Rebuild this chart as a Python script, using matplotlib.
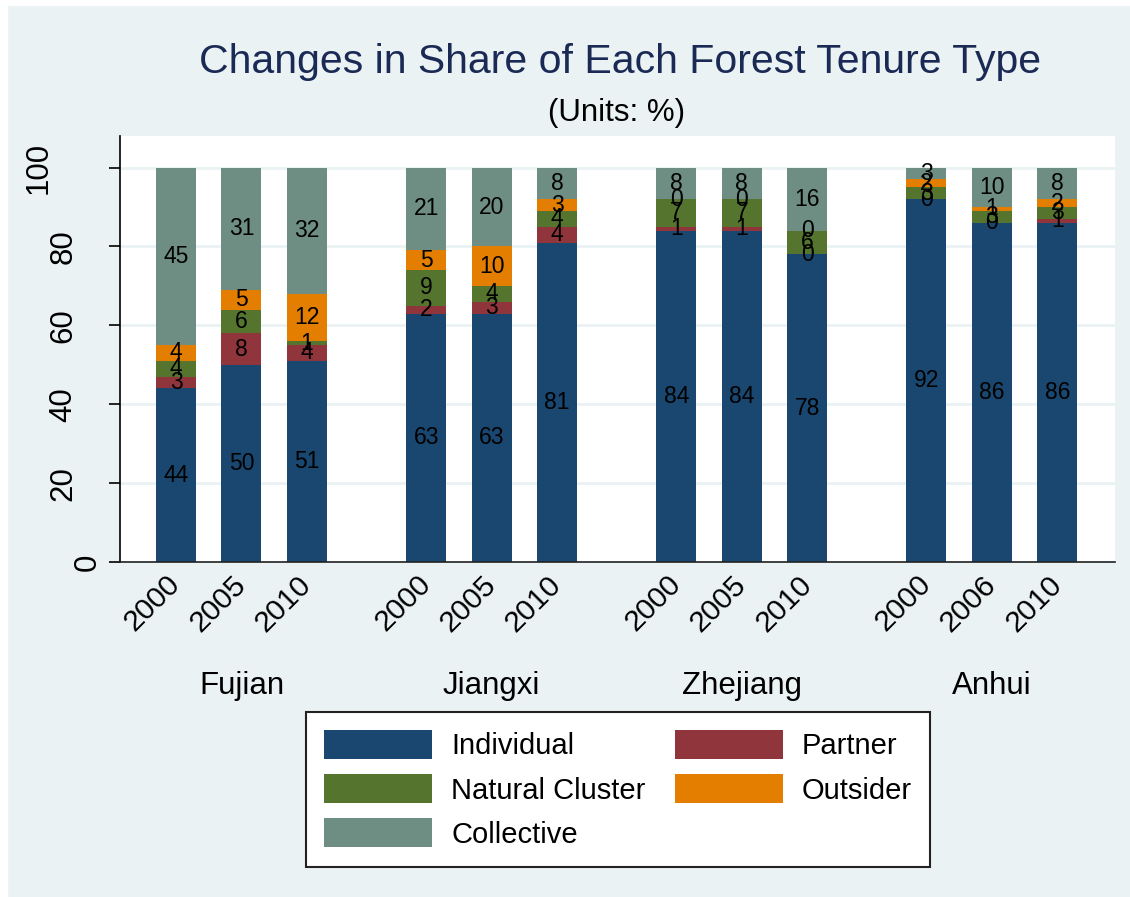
import matplotlib
matplotlib.use("Agg")
import matplotlib.pyplot as plt
import matplotlib.transforms as mtransforms
from matplotlib.patches import Rectangle

plt.rcParams['font.family'] = ['Liberation Sans', 'DejaVu Sans']

# data (percent shares, stacked bottom to top)
provinces = ['Fujian', 'Jiangxi', 'Zhejiang', 'Anhui']
years = [['2000', '2005', '2010'], ['2000', '2005', '2010'],
         ['2000', '2005', '2010'], ['2000', '2006', '2010']]

individual = [44, 50, 51, 63, 63, 81, 84, 84, 78, 92, 86, 86]
partner    = [3, 8, 4, 2, 3, 4, 1, 1, 0, 0, 0, 1]
natural    = [4, 6, 1, 9, 4, 4, 7, 7, 6, 3, 3, 3]
outsider   = [4, 5, 12, 5, 10, 3, 0, 0, 0, 2, 1, 2]
collective = [45, 31, 32, 21, 20, 8, 8, 8, 16, 3, 10, 8]

series = [('Individual', individual, '#1A476F'),
          ('Partner', partner, '#90353B'),
          ('Natural Cluster', natural, '#55752F'),
          ('Outsider', outsider, '#E37E00'),
          ('Collective', collective, '#6E8E84')]

bg = '#EAF2F3'
W, H = 1130, 897

fig = plt.figure(figsize=(W / 100, H / 100), dpi=100, facecolor=bg)
fig.patches.append(Rectangle((0, 0), 7 / W, 1, transform=fig.transFigure,
                             color='white', zorder=0))
fig.patches.append(Rectangle((0, 1 - 5 / H), 1, 5 / H, transform=fig.transFigure,
                             color='white', zorder=0))

ax = fig.add_axes([120 / W, 1 - 562 / H, 995 / W, 426 / H])
ax.set_facecolor('white')

group_step = 3.82
pos = []
for g in range(len(provinces)):
    for i in range(3):
        pos.append(g * group_step + i)

bottom = [0] * len(pos)
handles = {}
for name, vals, col in series:
    b = ax.bar(pos, vals, width=0.61, bottom=bottom, color=col, linewidth=0, zorder=2)
    handles[name] = b
    for x, v, b0 in zip(pos, vals, bottom):
        ax.text(x, b0 + v / 2, str(v), ha='center', va='center', fontsize=16.5,
                color='black', zorder=3)
    bottom = [b0 + v for b0, v in zip(bottom, vals)]

ax.set_xlim(-0.855, 14.34)
ax.set_ylim(0, 108)

# axes styling
for s in ['top', 'right']:
    ax.spines[s].set_visible(False)
ax.spines['left'].set_color('black')
ax.spines['left'].set_linewidth(1.2)
ax.spines['bottom'].set_color('#222222')
ax.spines['bottom'].set_linewidth(1.2)
ax.set_axisbelow(True)
ax.yaxis.grid(True, color=bg, linewidth=2)

yt = [0, 20, 40, 60, 80, 100]
ax.set_yticks(yt)
ax.set_yticklabels([])
ax.tick_params(axis='y', length=8, width=1.2, color='black')
ytrans = mtransforms.blended_transform_factory(ax.transAxes, ax.transData)
for t in yt:
    lab = str(t)
    shift = -(17 + (len(lab) - 1) * 24.5) / 100
    off = mtransforms.ScaledTranslation(shift, 0, fig.dpi_scale_trans)
    ax.text(0, t, lab, transform=ytrans + off, rotation=90, ha='right',
            va='center', fontsize=22.5)

flat_years = [y for grp in years for y in grp]
ax.set_xticks(pos)
ax.set_xticklabels(flat_years, rotation=45, ha='right', va='center',
                   rotation_mode='anchor', fontsize=21.5)
ax.tick_params(axis='x', length=0, pad=13)

xtrans = mtransforms.blended_transform_factory(ax.transData, ax.transAxes)
for g, p in enumerate(provinces):
    ax.text(g * group_step + 1, -0.29, p, transform=xtrans, ha='center',
            va='center', fontsize=22.5)

fig.text(620 / W, 1 - 62 / H, 'Changes in Share of Each Forest Tenure Type',
         ha='center', va='center', fontsize=29.5, color='#1A2A55')
fig.text(617 / W, 1 - 113 / H, '(Units: %)', ha='center', va='center',
         fontsize=22.5, color='black')

order = ['Individual', 'Natural Cluster', 'Collective', 'Partner', 'Outsider']
leg = ax.legend([handles[n] for n in order], order, loc='upper center',
                bbox_to_anchor=(618 / W, 1 - 712 / H), bbox_transform=fig.transFigure,
                ncol=2, fontsize=21, frameon=True, fancybox=False,
                edgecolor='#222222', framealpha=1, handlelength=3.7,
                handleheight=1.15, handletextpad=0.65, columnspacing=1.0,
                labelspacing=0.47, borderpad=0.62, borderaxespad=0)
leg.get_frame().set_linewidth(1.5)

fig.savefig('out.png', dpi=100, facecolor=bg)
